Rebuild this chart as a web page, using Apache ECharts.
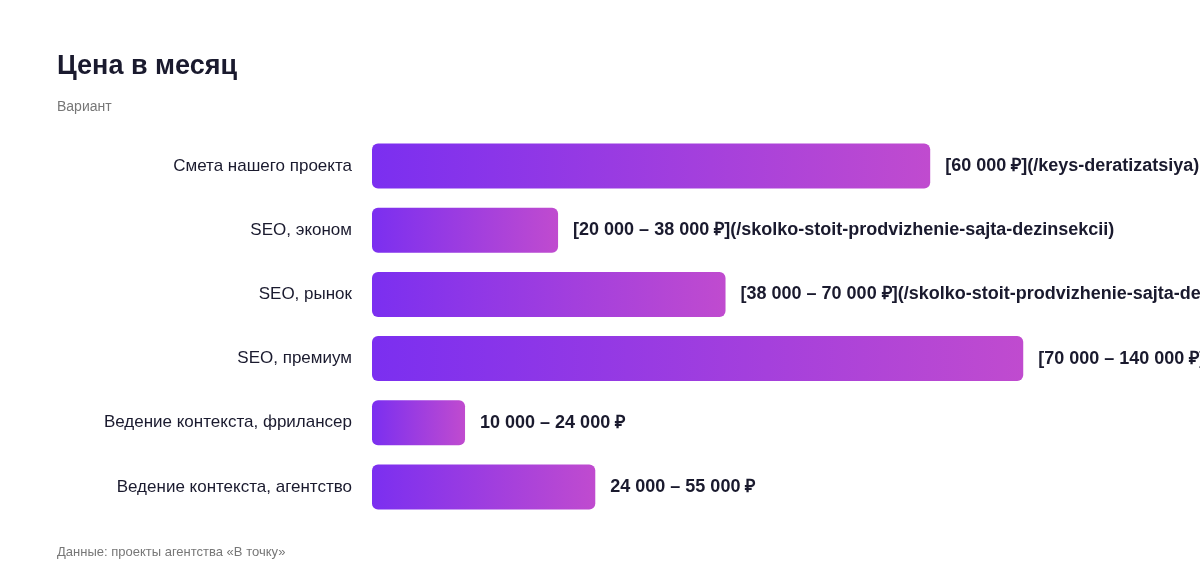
<!DOCTYPE html>
<html>
<head>
<meta charset="utf-8">
<script src="https://cdn.jsdelivr.net/npm/echarts@6/dist/echarts.min.js"></script>
<style>html,body{margin:0;padding:0;background:#fff}#chart{width:1200px;height:584px}</style>
</head>
<body>
<div id="chart"></div>
<script>
var categories = ['Смета нашего проекта', 'SEO, эконом', 'SEO, рынок', 'SEO, премиум', 'Ведение контекста, фрилансер', 'Ведение контекста, агентство']
var values = [60000, 20000, 38000, 70000, 10000, 24000]
var valueLabels = [
  '[60 000 ₽](/keys-deratizatsiya)',
  '[20 000 – 38 000 ₽](/skolko-stoit-prodvizhenie-sajta-dezinsekcii)',
  '[38 000 – 70 000 ₽](/skolko-stoit-prodvizhenie-sajta-dezinsekcii)',
  '[70 000 – 140 000 ₽](/skolko-stoit-prodvizhenie-sajta-dezinsekcii)',
  '10 000 – 24 000 ₽',
  '24 000 – 55 000 ₽'
]

var chart = echarts.init(document.getElementById('chart'))
var font = 'Helvetica, Arial, "Liberation Sans", sans-serif'
var option = {
  animation: false,
  title: [
    { text: 'Цена в месяц', left: 52, top: 48, textStyle: { fontSize: 27, fontWeight: 'bold', color: '#1a1a2e', fontFamily: font } },
    { text: 'Вариант', left: 52, top: 95, textStyle: { fontSize: 14, fontWeight: 'normal', color: '#777', fontFamily: font } },
    { text: 'Данные: проекты агентства «В точку»', left: 52, top: 541, textStyle: { fontSize: 13, fontWeight: 'normal', color: '#777', fontFamily: font } }
  ],
  grid: { left: 372, right: 0, top: 134, bottom: 65 },
  xAxis: { type: 'value', min: 0, max: 89000, show: false },
  yAxis: {
    type: 'category',
    inverse: true,
    data: categories,
    axisLine: { show: false },
    axisTick: { show: false },
    axisLabel: { margin: 20, fontSize: 17, color: '#1a1a2e', fontFamily: font }
  },
  series: [{
    type: 'bar',
    data: values,
    barWidth: 45,
    itemStyle: {
      borderRadius: 6,
      color: new echarts.graphic.LinearGradient(0, 0, 1, 0, [
        { offset: 0, color: '#7b2ff0' },
        { offset: 1, color: '#c04bcf' }
      ])
    },
    label: {
      show: true,
      position: 'right',
      distance: 15,
      fontSize: 18,
      fontWeight: 'bold',
      color: '#1a1a2e',
      fontFamily: font,
      formatter: function (p) { return valueLabels[p.dataIndex] }
    }
  }]
}
chart.setOption(option)
</script>
</body>
</html>
